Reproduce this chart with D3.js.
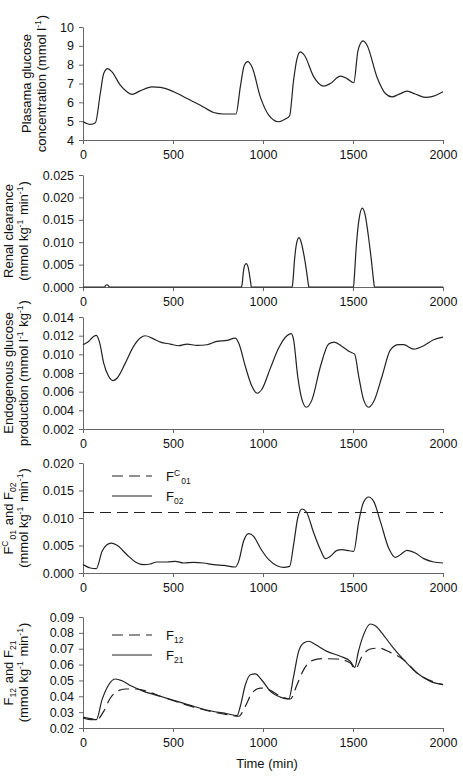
<!DOCTYPE html>
<html>
<head>
<meta charset="utf-8">
<script src="https://cdn.jsdelivr.net/npm/d3@7"></script>
<style>
  body { margin: 0; background: #fff; }
  svg text { font-family: Arial, "Liberation Sans", sans-serif; fill: #111; }
</style>
</head>
<body>
<div class="graph"></div>
<script>
// data: [time (min), value]
let timeTicks = [0, 500, 1000, 1500, 2000]

let glucose = [[0,4.97],[41,4.83],[69,4.92],[96,6.47],[115,7.53],[137,7.79],[161,7.62],[207,6.91],[244,6.56],[272,6.42],[318,6.61],[383,6.82],[430,6.79],[504,6.56],[578,6.2],[652,5.85],[726,5.46],[781,5.38],[850,5.38],[874,6.82],[896,7.97],[915,8.16],[939,7.88],[985,6.29],[1032,5.32],[1087,4.97],[1124,5.11],[1148,5.29],[1170,7.18],[1189,8.32],[1207,8.68],[1230,8.5],[1282,7.35],[1337,6.86],[1374,7.0],[1430,7.39],[1467,7.26],[1504,7.04],[1528,8.76],[1556,9.26],[1578,9.03],[1633,7.35],[1680,6.47],[1717,6.29],[1754,6.42],[1800,6.59],[1846,6.44],[1902,6.26],[1948,6.33],[2000,6.56]]

let renal = [[0,0],[120,0],[125,0.0003],[133,0.0005],[141,0.0003],[146,0],[880,0],[884,0.0006],[890,0.003],[898,0.0048],[907,0.0052],[916,0.0046],[924,0.003],[932,0.0008],[935,0],[1162,0],[1166,0.0012],[1175,0.006],[1188,0.0100],[1200,0.0110],[1212,0.0100],[1228,0.0070],[1242,0.0035],[1252,0.0006],[1255,0],[1503,0],[1507,0.002],[1518,0.009],[1535,0.0155],[1552,0.0176],[1568,0.016],[1585,0.0115],[1602,0.006],[1615,0.0012],[1619,0],[2000,0]]

let egp = [[0,0.01103],[31,0.01138],[59,0.01192],[74,0.01203],[93,0.01121],[115,0.00906],[143,0.00762],[167,0.00719],[189,0.00744],[235,0.00906],[281,0.01085],[318,0.01174],[346,0.01199],[383,0.01174],[430,0.01131],[485,0.0111],[531,0.01092],[578,0.0111],[633,0.01095],[689,0.01103],[744,0.01138],[800,0.01149],[846,0.01174],[865,0.01121],[902,0.0087],[939,0.00655],[967,0.00583],[994,0.00626],[1041,0.00852],[1087,0.01067],[1133,0.01199],[1157,0.01221],[1170,0.01156],[1193,0.00762],[1217,0.00512],[1241,0.00433],[1272,0.00512],[1319,0.0087],[1365,0.0111],[1396,0.01131],[1439,0.01085],[1485,0.01024],[1509,0.01002],[1532,0.00762],[1559,0.00512],[1587,0.00433],[1615,0.00494],[1661,0.00762],[1708,0.01049],[1754,0.01103],[1781,0.01103],[1837,0.01056],[1893,0.01092],[1948,0.01156],[2000,0.01185]]

let fc01 = [[0,0.011],[2000,0.011]]
let f02 = [[0,0.00152],[41,0.00091],[74,0.00079],[106,0.00394],[133,0.00515],[156,0.00545],[189,0.00503],[244,0.00333],[291,0.002],[337,0.00152],[374,0.00164],[411,0.002],[467,0.002],[513,0.00212],[559,0.00182],[615,0.00194],[670,0.00182],[726,0.00152],[781,0.00139],[846,0.00109],[865,0.00212],[892,0.00576],[920,0.00715],[948,0.00667],[985,0.00455],[1032,0.00242],[1078,0.00133],[1115,0.00103],[1148,0.00121],[1170,0.00515],[1193,0.01],[1217,0.01164],[1241,0.01109],[1282,0.00727],[1319,0.00424],[1346,0.00261],[1374,0.00303],[1411,0.00412],[1439,0.00424],[1467,0.00412],[1504,0.00394],[1532,0.00939],[1559,0.01291],[1587,0.01382],[1615,0.01303],[1652,0.00939],[1698,0.00455],[1735,0.00285],[1763,0.00333],[1800,0.00412],[1846,0.00364],[1893,0.00261],[1948,0.002],[2000,0.00182]]

let f12 = [[0,0.0269],[41,0.0259],[78,0.0253],[115,0.0305],[152,0.0389],[189,0.0431],[235,0.0446],[300,0.0446],[356,0.0431],[430,0.04],[615,0.0332],[800,0.0284],[865,0.0274],[902,0.0337],[939,0.0421],[985,0.0452],[1032,0.0442],[1096,0.04],[1152,0.0383],[1189,0.0473],[1226,0.0568],[1272,0.0625],[1328,0.0637],[1411,0.0635],[1485,0.061],[1513,0.0572],[1550,0.0652],[1596,0.0698],[1643,0.0704],[1707,0.0677],[1781,0.0631],[1856,0.0547],[2000,0.0473]]
let f21 = [[0,0.0263],[41,0.0253],[74,0.0253],[106,0.0379],[143,0.0473],[180,0.0509],[217,0.0498],[272,0.0463],[337,0.0431],[430,0.04],[522,0.0368],[615,0.0337],[707,0.0309],[800,0.029],[856,0.0278],[874,0.0337],[902,0.0473],[930,0.0536],[957,0.0541],[994,0.0501],[1041,0.0431],[1096,0.0395],[1143,0.0383],[1170,0.0526],[1198,0.0683],[1226,0.0736],[1254,0.0747],[1291,0.0726],[1356,0.0683],[1430,0.0652],[1485,0.062],[1510,0.0582],[1528,0.0673],[1559,0.0789],[1596,0.0856],[1624,0.0845],[1661,0.0799],[1717,0.0715],[1781,0.0631],[1856,0.0547],[1930,0.0494],[2000,0.0473]]

let svgWidth = 463
let svgHeight = 776

let svg = d3.select('.graph')
    .append('svg')
    .attr('width', svgWidth)
    .attr('height', svgHeight)

let xScale = d3.scaleLinear().domain([0, 2000]).range([83, 443])

// one entry per panel
let panels = [
  { top: 27, bottom: 140, domain: [4, 10], step: 1, fmt: d3.format('d'), titleX: [31, 46],
    title: [['Plasama glucose'], ['concentration (mmol l', ['-1', 'sup'], ')']],
    lines: [{ data: glucose }] },
  { top: 175, bottom: 287, domain: [0, 0.025], step: 0.005, fmt: d3.format('.3f'), titleX: [13, 28],
    title: [['Renal clearance'], ['(mmol kg', ['-1', 'sup'], ' min', ['-1', 'sup'], ')']],
    lines: [{ data: renal }] },
  { top: 317, bottom: 429, domain: [0.002, 0.014], step: 0.002, fmt: d3.format('.3f'), titleX: [13, 28],
    title: [['Endogenous glucose'], ['production (mmol l', ['-1', 'sup'], ' kg', ['-1', 'sup'], ')']],
    lines: [{ data: egp }] },
  { top: 463, bottom: 573, domain: [0, 0.020], step: 0.005, fmt: d3.format('.3f'), titleX: [13, 28],
    title: [['F', ['C', 'sup'], ['01', 'sub'], ' and F', ['02', 'sub']], ['(mmol kg', ['-1', 'sup'], ' min', ['-1', 'sup'], ')']],
    lines: [{ data: fc01, dash: '11,6', label: ['F', ['C', 'sup'], ['01', 'sub']] },
            { data: f02, label: ['F', ['02', 'sub']] }],
    legendY: 476 },
  { top: 617, bottom: 728, domain: [0.02, 0.09], step: 0.01, fmt: d3.format('.2f'), titleX: [13, 28],
    title: [['F', ['12', 'sub'], ' and F', ['21', 'sub']], ['(mmol kg', ['-1', 'sup'], ' min', ['-1', 'sup'], ')']],
    lines: [{ data: f12, dash: '11,6', label: ['F', ['12', 'sub']] },
            { data: f21, label: ['F', ['21', 'sub']] }],
    legendY: 635 }
]

// writes plain / sup / sub pieces into a text element
function richText(sel, parts) {
  parts.forEach(p => {
    if (typeof p === 'string') {
      sel.append('tspan').text(p)
    } else {
      let shift = p[1] === 'sup' ? -5 : 3
      sel.append('tspan').attr('font-size', 8.5).attr('dy', shift).text(p[0])
      sel.append('tspan').attr('dy', -shift).text('\u200a')
    }
  })
}

panels.forEach(p => {
  let yScale = d3.scaleLinear().domain(p.domain).range([p.bottom, p.top])
  let ticks = d3.range(p.domain[0], p.domain[1] + p.step / 2, p.step)

  let yAxis = d3.axisLeft(yScale).tickValues(ticks).tickFormat(p.fmt)
      .tickSize(4).tickSizeOuter(0).tickPadding(5)
  let xAxis = d3.axisBottom(xScale).tickValues(timeTicks).tickFormat(d3.format('d'))
      .tickSize(4).tickSizeOuter(0).tickPadding(6)

  let gy = svg.append('g').attr('transform', 'translate(83,0)').call(yAxis)
  let gx = svg.append('g').attr('transform', `translate(0,${p.bottom})`).call(xAxis)
  ;[gx, gy].forEach(g => {
    g.selectAll('path, line').attr('stroke', '#666')
    g.selectAll('text').attr('font-size', 12.5).attr('fill', '#111')
  })

  // y titles, rotated
  let mid = (p.top + p.bottom) / 2
  p.title.forEach((parts, i) => {
    let t = svg.append('text')
        .attr('transform', `translate(${p.titleX[i]},${mid}) rotate(-90)`)
        .attr('text-anchor', 'middle')
        .attr('font-size', 13)
    richText(t, parts)
  })

  let line = d3.line()
      .x(d => xScale(d[0]))
      .y(d => yScale(d[1]))
      .curve(d3.curveMonotoneX)

  p.lines.forEach((l, i) => {
    svg.append('path')
      .attr('d', line(l.data))
      .attr('fill', 'none')
      .attr('stroke', '#222')
      .attr('stroke-width', 1.2)
      .attr('stroke-dasharray', l.dash || null)

    if (l.label) {
      let ly = p.legendY + i * 20
      svg.append('line')
        .attr('x1', 112).attr('x2', 152)
        .attr('y1', ly).attr('y2', ly)
        .attr('stroke', '#222').attr('stroke-width', 1.2)
        .attr('stroke-dasharray', l.dash || null)
      let t = svg.append('text').attr('x', 166).attr('y', ly + 5).attr('font-size', 13)
      richText(t, l.label)
    }
  })
})

svg.append('text')
  .attr('x', 267).attr('y', 768)
  .attr('text-anchor', 'middle')
  .attr('font-size', 13)
  .text('Time (min)')
</script>
</body>
</html>
